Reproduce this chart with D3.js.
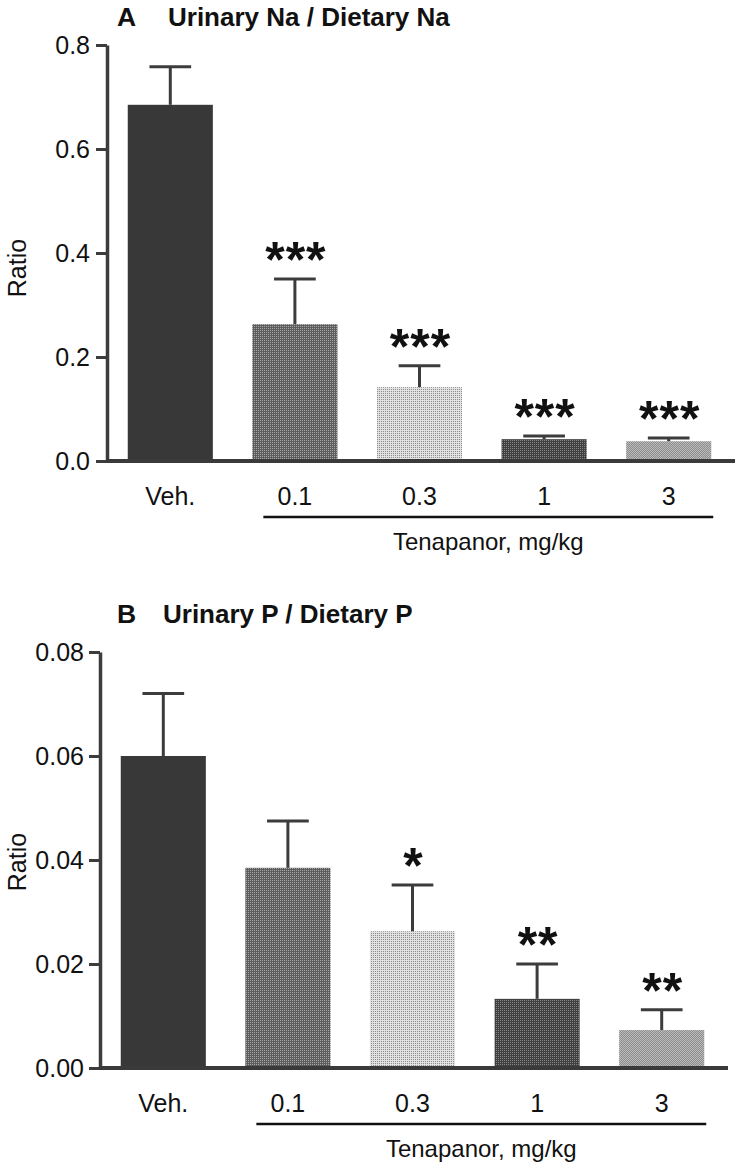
<!DOCTYPE html>
<html>
<head>
<meta charset="utf-8">
<script src="https://cdn.jsdelivr.net/npm/d3@7"></script>
<style>
  html, body { margin: 0; padding: 0; background: #fff; }
  svg { display: block; }
  text { font-family: "Liberation Sans", Arial, sans-serif; fill: #111; }
</style>
</head>
<body>
<svg id="chart" width="738" height="1167"></svg>
<script>
// ---- data ----
const categories = ["Veh.", "0.1", "0.3", "1", "3"];

const naMean = [0.685, 0.263, 0.142, 0.042, 0.038];
const naSem  = [0.073, 0.087, 0.041, 0.006, 0.006];
const naSig  = ["", "***", "***", "***", "***"];
const naTicks = [0, 0.2, 0.4, 0.6, 0.8];

const pMean = [0.0600, 0.0385, 0.0263, 0.0133, 0.0073];
const pSem  = [0.0120, 0.0090, 0.0089, 0.0067, 0.0039];
const pSig  = ["", "", "*", "**", "**"];
const pTicks = [0, 0.02, 0.04, 0.06, 0.08];

// stipple textures: [base colour, dot colour, dot cells in a 2x2 tile]
const textures = [
  ["#383838", "#383838", []],
  ["#5c5c5c", "#a8a8a8", [[0,0]]],
  ["#e2e2e2", "#8c8c8c", [[1,1]]],
  ["#404040", "#858585", [[0,0]]],
  ["#8c8c8c", "#bcbcbc", [[0,0],[1,1]]]
];

const svg = d3.select("#chart");
const defs = svg.append("defs");
textures.forEach((t, i) => {
  const p = defs.append("pattern").attr("id", "tex" + i)
    .attr("patternUnits", "userSpaceOnUse").attr("width", 2).attr("height", 2);
  p.append("rect").attr("width", 2).attr("height", 2).attr("fill", t[0]);
  t[2].forEach(c => p.append("rect").attr("x", c[0]).attr("y", c[1])
    .attr("width", 1).attr("height", 1).attr("fill", t[1]));
});

function panel(opts) {
  const g = svg.append("g");
  const x = d3.scaleBand().domain(categories)
    .range(opts.xRange).paddingInner(0.317).paddingOuter(0.1585);
  const y = d3.scaleLinear().domain(opts.yDomain).range(opts.yRange);
  const bw = x.bandwidth();

  // title
  g.append("text").attr("x", 117).attr("y", opts.titleY)
    .attr("font-size", 26.5).attr("font-weight", "bold").text(opts.letter);
  g.append("text").attr("x", opts.titleX).attr("y", opts.titleY)
    .attr("font-size", 26).attr("font-weight", "bold").text(opts.title);

  // y axis
  const ya = g.append("g")
    .attr("transform", `translate(${opts.axisX},0)`)
    .call(d3.axisLeft(y).tickValues(opts.ticks).tickFormat(d3.format(opts.fmt))
      .tickSize(11).tickSizeOuter(0).tickPadding(opts.tickPad));
  ya.select(".domain").attr("stroke", "#3c3c3c").attr("stroke-width", 3.5);
  ya.selectAll(".tick line").attr("stroke", "#3c3c3c").attr("stroke-width", 3);
  ya.selectAll(".tick text").attr("font-size", 25)
    .attr("font-family", "Liberation Sans, Arial, sans-serif").attr("fill", "#111");

  // y label
  g.append("text")
    .attr("transform", `translate(${opts.ylabX},${opts.ylabY}) rotate(-90)`)
    .attr("text-anchor", "middle").attr("font-size", 25).text("Ratio");

  // bars
  g.selectAll("rect.bar").data(categories).join("rect")
    .attr("class", "bar")
    .attr("x", d => x(d))
    .attr("width", bw)
    .attr("y", (d, i) => y(opts.mean[i]))
    .attr("height", (d, i) => y(0) - y(opts.mean[i]))
    .attr("fill", (d, i) => `url(#tex${i})`);

  // error bars
  const eb = g.selectAll("g.eb").data(categories).join("g").attr("class", "eb");
  eb.append("line")
    .attr("x1", d => x(d) + bw / 2).attr("x2", d => x(d) + bw / 2)
    .attr("y1", (d, i) => y(opts.mean[i]))
    .attr("y2", (d, i) => y(opts.mean[i] + opts.sem[i]))
    .attr("stroke", "#3c3c3c").attr("stroke-width", 3);
  eb.append("line")
    .attr("x1", d => x(d) + bw / 2 - bw * 0.245).attr("x2", d => x(d) + bw / 2 + bw * 0.245)
    .attr("y1", (d, i) => y(opts.mean[i] + opts.sem[i]))
    .attr("y2", (d, i) => y(opts.mean[i] + opts.sem[i]))
    .attr("stroke", "#3c3c3c").attr("stroke-width", 3);

  // significance
  g.selectAll("text.sig").data(categories).join("text")
    .attr("class", "sig")
    .attr("x", d => x(d) + bw / 2 + 1)
    .attr("y", (d, i) => y(opts.mean[i] + opts.sem[i]) - 2)
    .attr("text-anchor", "middle")
    .attr("font-size", 50).attr("font-weight", "bold")
    .attr("letter-spacing", 1)
    .text((d, i) => opts.sig[i]);

  // x axis baseline
  g.append("line")
    .attr("x1", opts.axisX - 1).attr("x2", opts.xEnd)
    .attr("y1", y(0)).attr("y2", y(0))
    .attr("stroke", "#3a3a3a").attr("stroke-width", 4);

  // category labels
  g.selectAll("text.cat").data(categories).join("text")
    .attr("class", "cat")
    .attr("x", d => x(d) + bw / 2)
    .attr("y", y(0) + 44)
    .attr("text-anchor", "middle").attr("font-size", 25)
    .text(d => d);

  // bracket
  const bx1 = x(categories[1]) + 11;
  const bx2 = x(categories[4]) + bw + 2;
  g.append("line")
    .attr("x1", bx1).attr("x2", bx2)
    .attr("y1", y(0) + 56).attr("y2", y(0) + 56)
    .attr("stroke", "#111").attr("stroke-width", 2.5);
  g.append("text")
    .attr("x", (bx1 + bx2) / 2).attr("y", y(0) + 89)
    .attr("text-anchor", "middle").attr("font-size", 24)
    .text("Tenapanor, mg/kg");
}

panel({
  letter: "A", title: "Urinary Na / Dietary Na", titleX: 168, titleY: 26,
  xRange: [108, 731], yDomain: [0, 0.8], yRange: [461, 45],
  axisX: 107, xEnd: 735, ticks: naTicks, fmt: ".1f", tickPad: 6,
  ylabX: 26, ylabY: 268,
  mean: naMean, sem: naSem, sig: naSig
});

panel({
  letter: "B", title: "Urinary P / Dietary P", titleX: 163, titleY: 623,
  xRange: [101, 724], yDomain: [0, 0.08], yRange: [1068, 652],
  axisX: 100, xEnd: 728, ticks: pTicks, fmt: ".2f", tickPad: 5,
  ylabX: 26, ylabY: 862,
  mean: pMean, sem: pSem, sig: pSig
});
</script>
</body>
</html>
